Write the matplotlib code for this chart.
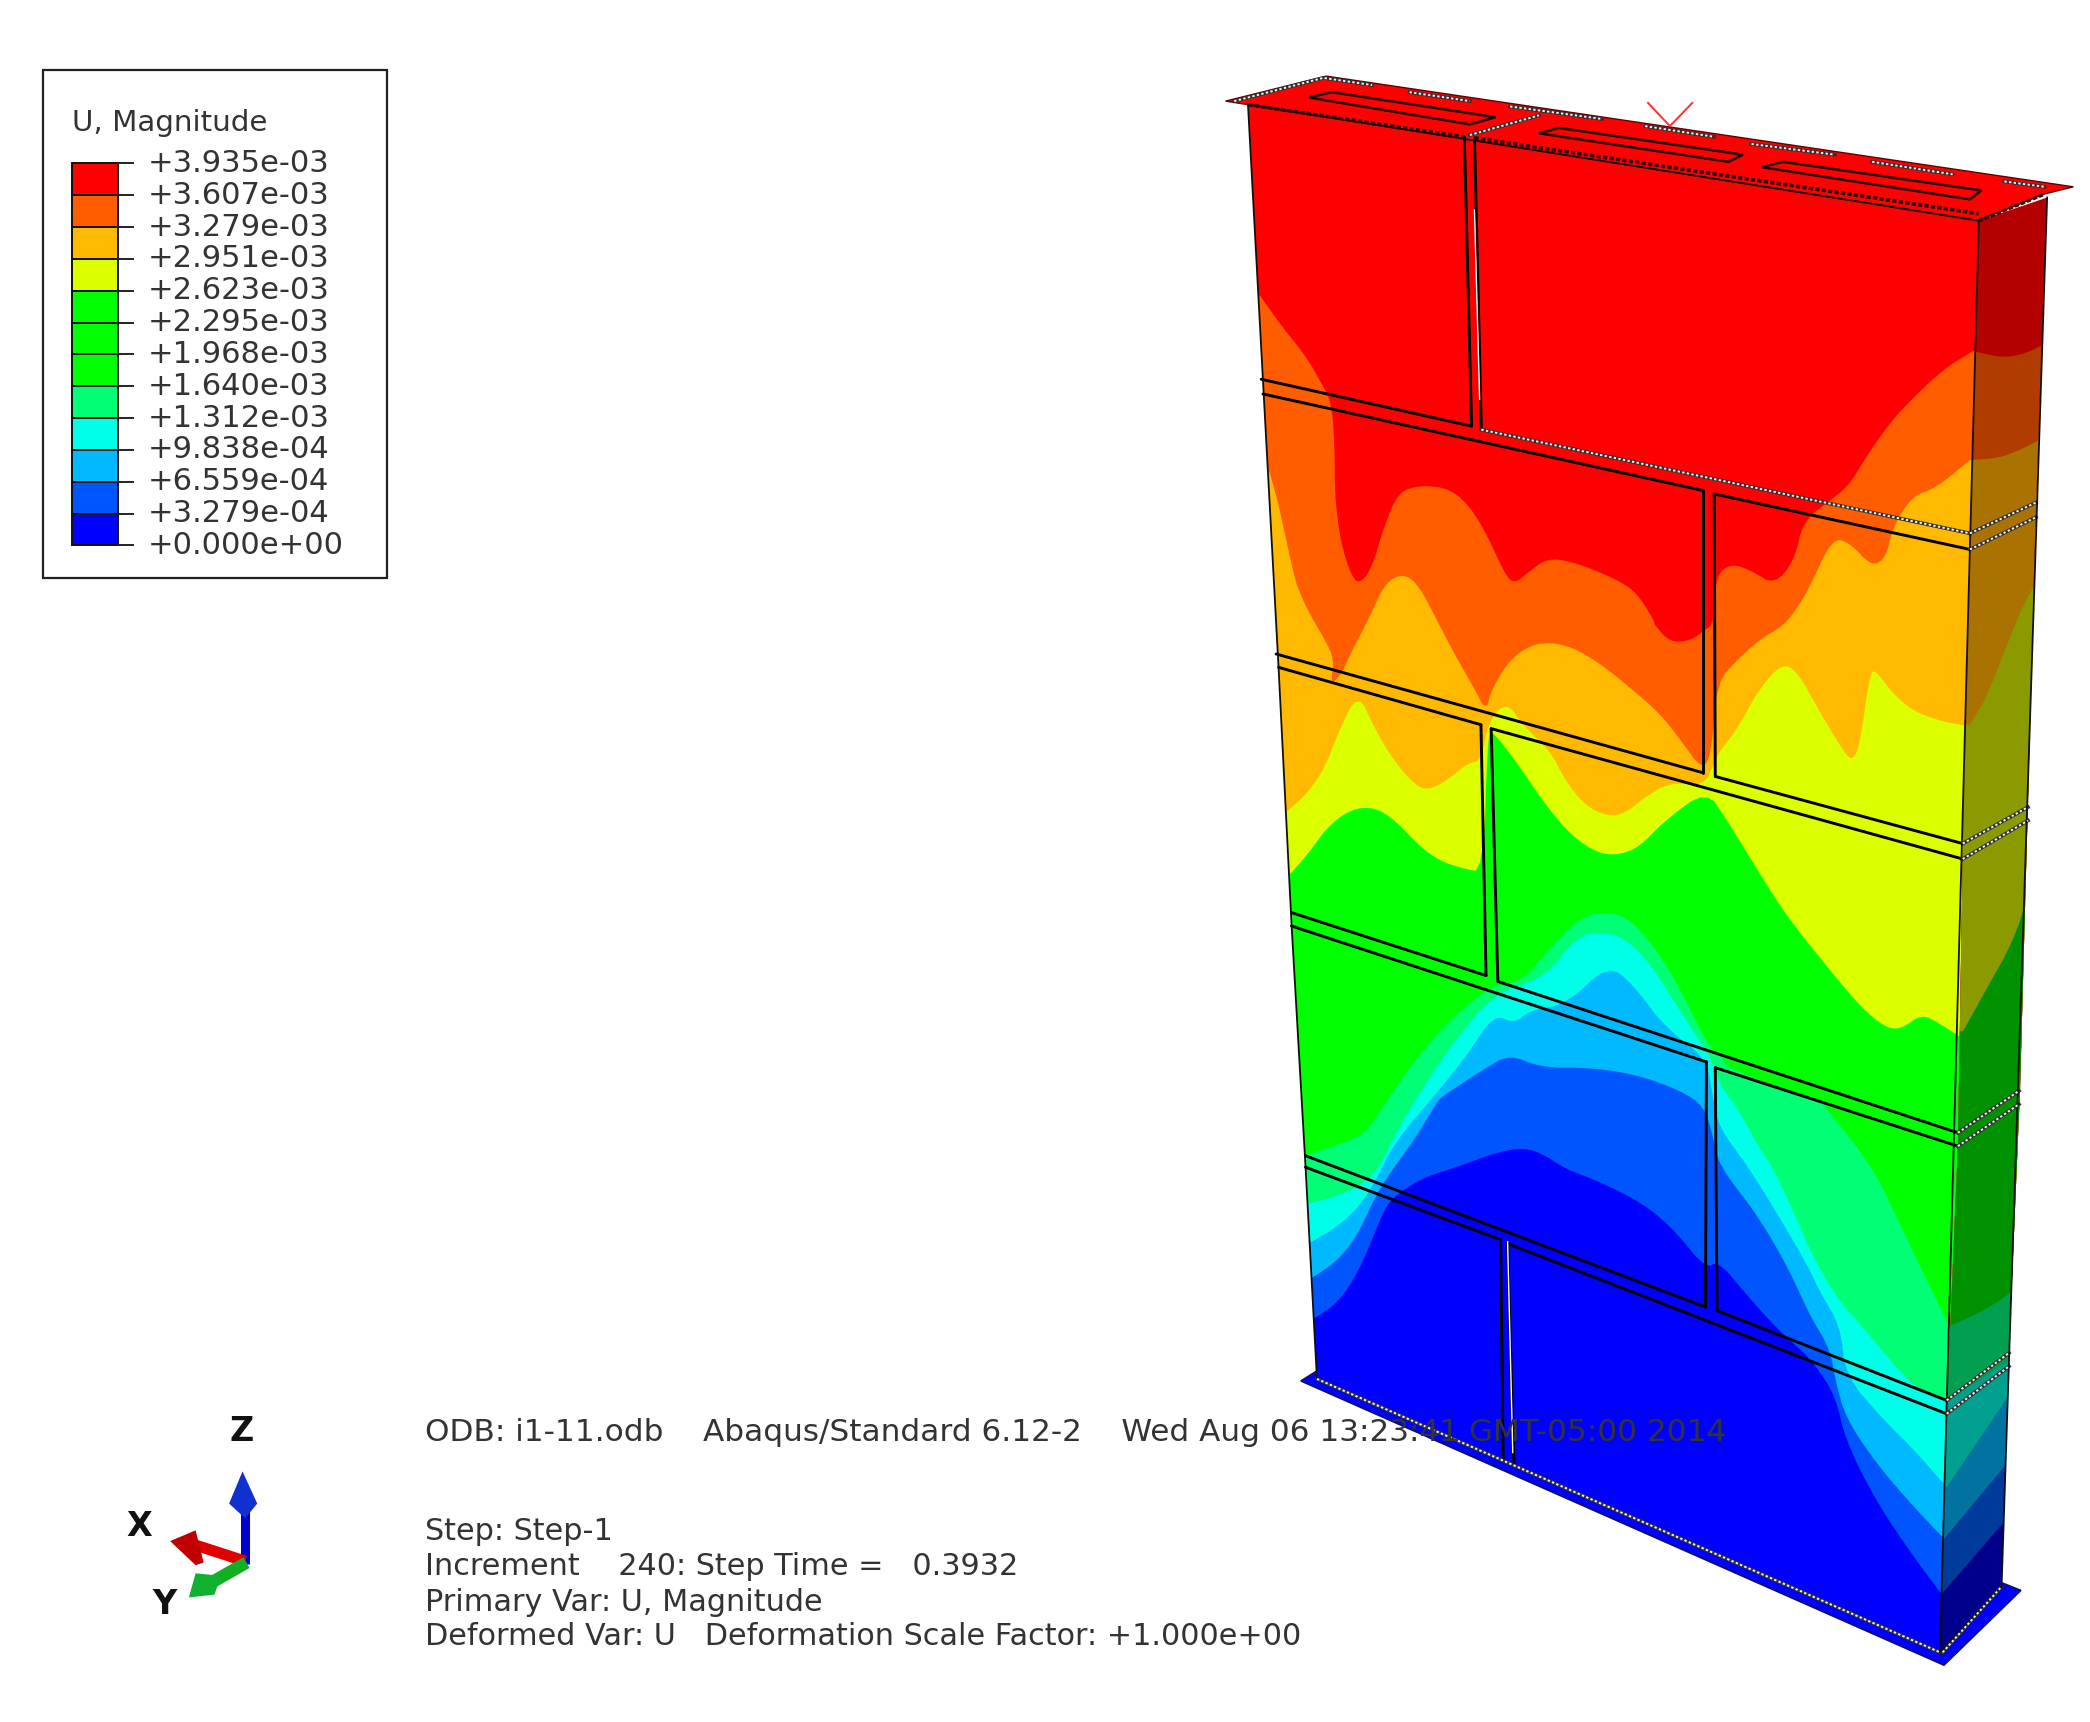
import matplotlib
matplotlib.use("Agg")
import matplotlib.pyplot as plt
from matplotlib.patches import Polygon

W, H = 1560, 1285

def z2(p): return [(895.5 + .429 * x, 44.8 + .2665 * y) for x, y in p]
def z3(p): return [(925.4 + .387 * x, 417.9 + .2859 * y) for x, y in p]
def z4(p): return [(940.3 + .387 * x, 820.9 + .2859 * y) for x, y in p]

def smooth(p, rounds=2):
    for _ in range(rounds):
        out = [p[0]]
        for a, b in zip(p[:-1], p[1:]):
            out.append((.75 * a[0] + .25 * b[0], .75 * a[1] + .25 * b[1]))
            out.append((.25 * a[0] + .75 * b[0], .25 * a[1] + .75 * b[1]))
        out.append(p[-1])
        p = out
    return p

# legend
levels = [3.935e-03, 3.607e-03, 3.279e-03, 2.951e-03, 2.623e-03, 2.295e-03, 1.968e-03,
          1.640e-03, 1.312e-03, 9.838e-04, 6.559e-04, 3.279e-04, 0.0]
level_labels = ["+3.935e-03", "+3.607e-03", "+3.279e-03", "+2.951e-03", "+2.623e-03", "+2.295e-03",
                "+1.968e-03", "+1.640e-03", "+1.312e-03", "+9.838e-04", "+6.559e-04", "+3.279e-04",
                "+0.000e+00"]
band_colors = ["#FF0000", "#FF5D00", "#FFB900", "#DCFF00", "#00FF00", "#00FF00", "#00FF00",
               "#00FF74", "#00FFE8", "#00B9FF", "#0055FF", "#0000FF"]

# wall contour boundaries, high to low
front_colors = ["#FF5D00", "#FFB900", "#DCFF00", "#00FF00", "#00FF74", "#00FFE8", "#00B9FF", "#0055FF", "#0000FF"]
side_colors = ["#B03C00", "#AA7200", "#8A9A00", "#009100", "#00A050", "#00A090", "#0073A0", "#003A9A", "#00008C"]

c_red = z2([(105,660),(140,740),(185,830),(210,900),(230,960),(235,1100),(235,1220),(245,1350),(265,1450),(280,1465),
            (300,1420),(320,1310),(345,1210),(385,1190),(435,1200),(470,1250),(500,1330),(525,1420),(545,1470),(575,1430),
            (605,1395),(650,1405),(720,1450),(760,1490),(790,1568)]) + \
        z3([(800,170),(830,215),(870,210),(895,185),(915,165),(918,40)]) + \
        z2([(925,1410),(960,1430),(1000,1470),(1035,1400),(1050,1290),(1100,1230),(1130,1190),(1160,1110),(1190,1040),
            (1220,980),(1290,870),(1345,815)])
c_orange = z2([(117,1130),(135,1230),(150,1340),(165,1450),(175,1500)]) + \
        z3([(105,50),(130,130),(165,210),(182,260),(175,325),(195,300),(215,240),(250,150),(280,60),(315,35),(345,65),
            (385,170),(420,260),(450,330),(475,395),(485,340),(520,260),(570,215),(630,220),(690,265),(750,330),(810,400),
            (850,470),(893,550),(910,500),(920,320),(960,260),(1000,210),(1050,170),(1075,125)]) + \
        z2([(1060,1480),(1100,1340),(1130,1350),(1170,1420),(1195,1390),(1205,1310),(1240,1220),(1280,1200),(1340,1120)])
c_amber = z3([(92,655),(130,610),(165,540),(190,450),(228,345),(260,440),(300,530),(340,590),(365,600),(400,575),
              (440,530),(465,525),(480,420),(515,370),(545,430),(600,500),(625,570),(665,640),(710,670),(745,660),(780,620),
              (830,580),(895,590),(915,530),(925,500),(960,440),(1000,340),(1045,270),(1075,290),(1120,400),(1160,490),
              (1180,525),(1195,490),(1215,300),(1225,285),(1260,350),(1300,395),(1350,420),(1408,435)])
c_yellow = z3([(97,820),(130,770),(170,695),(215,650),(260,645),(300,680),(345,745),(385,785),(430,805),(470,815),(478,450),
               (490,450),(540,540),(590,640),(640,720),(690,765),(730,770),(770,750),(820,680),(900,600),(940,680),(990,790),
               (1040,900),(1090,990),(1150,1090),(1200,1170),(1245,1220),(1275,1225),(1315,1185),(1350,1210),(1395,1250)])
c_green = z3([(125,1555),(180,1530),(240,1500),(270,1440),(340,1300),(420,1180),(490,1110),(545,1100),(600,1010),(660,930),
              (705,918),(750,935),(800,1010),(850,1120),(900,1260),(930,1300),(945,1330),(1130,1420)]) + \
          z4([(1085,10),(1180,170),(1230,310),(1290,480),(1330,590)])
c_spring = z4([(95,270),(140,255),(185,230),(225,190),(260,90),(300,0)]) + \
           z3([(400,1280),(490,1130),(590,1090),(650,980),(710,970),(755,1000),(800,1070),(850,1180),(910,1300),(925,1370),
               (960,1430),(1000,1530)]) + \
           z4([(1000,200),(1090,480),(1180,620),(1260,750),(1330,790)])
c_cyan = z4([(100,370),(150,330),(190,280),(220,220),(260,110),(330,0)]) + \
         z3([(440,1290),(490,1185),(530,1210),(560,1175),(630,1160),(710,1055),(760,1110),(820,1220),(900,1300),(912,1400)]) + \
         z4([(885,70),(940,170),(1000,300),(1060,440),(1080,500),(1120,590),(1130,720),(1200,830),(1260,910),(1325,1010)])
c_azure = z4([(100,465),(150,420),(190,350),(230,230),(300,100),(340,10)]) + \
          z3([(390,1400),(470,1330),(520,1290),(580,1325),(680,1325),(770,1345),(850,1385),(895,1425),(912,1500)]) + \
          z4([(885,170),(960,300),(1020,440),(1060,560),(1100,650),(1110,730),(1130,830),(1190,950),(1260,1060),(1320,1145)])
c_mid = z4([(105,570),(150,530),(190,450),(230,320),(250,260),(310,205),(380,175),(460,135),(510,125),(545,140),(590,180),
            (650,210),(740,270),(800,340),(860,440),(885,420),(940,510),(1000,600),(1050,660),(1070,690),(1110,770),
            (1130,890),(1190,1050),(1260,1190),(1315,1290)])
front_curves = [c_red, c_orange, c_amber, c_yellow, c_green, c_spring, c_cyan, c_azure, c_mid]

side_curves = [z2([(1345,815),(1400,835),(1440,820),(1475,790)]),
               z2([(1340,1120),(1390,1115),(1430,1090),(1465,1060)]),
               z3([(1408,430),(1440,360),(1480,220),(1510,120),(1535,60)]),
               z3([(1395,1230),(1440,1120),(1490,1000),(1520,880)]),
               z4([(1330,590),(1380,560),(1420,530),(1450,500)]),
               z4([(1325,790),(1345,770),(1445,680)]),
               z4([(1325,1010),(1440,780)]),
               z4([(1320,1145),(1440,950)]),
               z4([(1315,1290),(1430,1110)])]

# wall geometry
front_face = [(931.5,78),(1477,164.7),(1470.4,398),(1465,641),(1461.4,855),(1453,1055),(1448,1233),(983,1029),(974.4,869.5),(964,689.5),(954.4,499.4)]
side_face = [(1477,164.7),(1528,147.4),(1519.7,375),(1513.6,600.9),(1507.8,812),(1499.5,1009.6),(1494,1184),(1448,1233),(1453,1055),(1461.4,855),(1465,641),(1470.4,398)]
top_plate = z2([(45,115),(220,45),(1520,355),(1470,375),(1355,450),(84,125)])
base_plate = [(971,1030.5),(983,1023),(1495.6,1181.7),(1508.4,1186.8),(1451,1242.6)]
slots = [z2([(190,105),(230,90),(515,160),(470,180)]),
         z2([(590,205),(625,190),(945,265),(920,285)]),
         z2([(978,300),(1015,285),(1360,365),(1340,390)])]

solid_lines = [
    [(941.4,283),(1098.4,318)], [(942.7,294),(1271,366)], [(1279.5,368.6),(1470.4,410)],
    [(1093,102),(1098.4,318)], [(1100.6,103),(1105.7,320.6)],
    [(1271,366),(1271,576.6)], [(1279.5,368.6),(1280.3,579.4)],
    [(952.5,488),(1271,576.6)], [(954.4,498),(1105.4,540.8)], [(1113,543.7),(1465,641)], [(1280.3,579.4),(1465,629.5)],
    [(1105.4,540.8),(1109.2,728)], [(1113,543.7),(1118,732.4)],
    [(964,681),(1109.2,728)], [(1118,732.4),(1461.4,845.3)], [(964,691),(1273.7,792.4)], [(1280.3,796.7),(1461.4,855.3)],
    [(1273.7,792.4),(1273,975.3)], [(1280.3,796.7),(1281.6,978)],
    [(974.4,862.4),(1273,975.3)], [(1281.6,978),(1453,1045)], [(974.4,871),(1120,925)], [(1125.3,928),(1453,1055)],
    [(1120,925),(1122,1089.6)], [(1125.3,928),(1130,1092.5)],
]
dotted_lines = [
    [(1105.7,320.6),(1470.4,398)], [(1470.4,398),(1519.7,375)], [(1470.4,410),(1519.7,386)],
    [(1465,629.5),(1513.7,602.3)], [(1465,641),(1513.7,612.3)],
    [(1461.4,845.3),(1507,814)], [(1461.4,855.3),(1507,824)],
    [(1453,1045),(1499.5,1009.6)], [(1453,1055),(1499.5,1019.6)],
    [(983,1029),(1448,1233)], [(1450,1233),(1494,1184)],
    z2([(60,115),(215,50),(300,70)]), z2([(365,90),(470,115)]), z2([(540,130),(700,165)]),
    z2([(775,185),(895,215)]), z2([(960,235),(1105,265)]), z2([(1170,285),(1310,320)]), z2([(1400,340),(1470,355)]),
    z2([(470,210),(590,155)]),
]
white_lines = [z2([(478,420),(487,950)]), z4([(478,370),(488,920)])]
top_edges = [z2([(85,125),(460,215)]), z2([(478,218),(1355,430)]), z2([(1355,450),(1470,375)])]
v_mark = z2([(780,120),(818,185),(857,120)])

# annotation
info_top = "ODB: i1-11.odb    Abaqus/Standard 6.12-2    Wed Aug 06 13:23:41 GMT-05:00 2014"
info_lines = ["Step: Step-1", "Increment    240: Step Time =   0.3932", "Primary Var: U, Magnitude",
              "Deformed Var: U   Deformation Scale Factor: +1.000e+00"]
info_y = [1143, 1169, 1196, 1221]

fig = plt.figure(figsize=(20.9, 17.22), dpi=100)
ax = fig.add_axes([0, 0, 1, 1])
ax.set_xlim(0, W)
ax.set_ylim(H, 0)
ax.axis("off")

def fill_bands(face, base, curves, colors, z, rounds):
    clip = Polygon(face, closed=True, transform=ax.transData, fc="none", ec="none")
    ax.add_patch(clip)
    ax.add_patch(Polygon(face, closed=True, fc=base, ec="none", zorder=z))
    for curve, col in zip(curves, colors):
        curve = smooth(curve, rounds)
        x0, y0 = curve[0]
        x1, y1 = curve[-1]
        pts = [(x0 - 80, y0)] + curve + [(x1 + 80, y1), (x1 + 80, 1320), (x0 - 80, 1320)]
        q = Polygon(pts, closed=True, fc=col, ec="none", zorder=z)
        ax.add_patch(q)
        q.set_clip_path(clip)

ax.add_patch(Polygon(base_plate, closed=True, fc="#0000FF", ec="#101060", lw=1.2, zorder=1))
ax.add_patch(Polygon(top_plate, closed=True, fc="#FF0000", ec="#600000", lw=1.0, zorder=3))
fill_bands(front_face, "#FF0000", front_curves, front_colors, 2, 2)
fill_bands(side_face, "#B40000", side_curves, side_colors, 2, 2)

for s in slots:
    ax.add_patch(Polygon(s, closed=True, fc="#FF0000", ec="#200000", lw=1.8, zorder=4))
for ln in top_edges:
    ax.plot(*zip(*ln), color="#300000", lw=2.6, ls=(0, (1.2, 0.6)), zorder=4)
for ln in solid_lines:
    ax.plot(*zip(*ln), color="#000000", lw=2.1, zorder=5, solid_capstyle="round")
for ln in dotted_lines:
    ax.plot(*zip(*ln), color="#303030", lw=2.6, zorder=5)
    ax.plot(*zip(*ln), color="#F0F0F0", lw=1.4, ls=(0, (1.2, 1.2)), zorder=6)
for ln in white_lines:
    ax.plot(*zip(*ln), color="#FFFFFF", lw=1.0, zorder=6)
for a, b in [(front_face[0], front_face[1]), (front_face[1], front_face[6]), (side_face[1], side_face[6]), (side_face[6], side_face[7])]:
    ax.plot([a[0], b[0]], [a[1], b[1]], color="#101010", lw=1.3, zorder=5)
ax.plot([front_face[0][0], front_face[10][0], front_face[9][0], front_face[8][0], front_face[7][0]],
        [front_face[0][1], front_face[10][1], front_face[9][1], front_face[8][1], front_face[7][1]],
        color="#101010", lw=1.3, zorder=5)
ax.plot(*zip(*v_mark), color="#FF3030", lw=1.4, zorder=6)

# legend box and colour bar
ax.add_patch(Polygon([(32,52),(289,52),(289,431),(32,431)], closed=True, fc="white", ec="#222222", lw=1.6, zorder=7))
ax.text(54, 91.5, "U, Magnitude", fontsize=21.2, color="#333333", va="center", ha="left", zorder=8)
n = len(levels) - 1
step = (407 - 122) / n
for i, col in enumerate(band_colors):
    ax.bar(54, step, width=34, bottom=122 + i * step, align="edge", color=col, ec="#111111", lw=1.4, zorder=8)
for i, lab in enumerate(level_labels):
    y = 122 + i * step
    ax.plot([88, 99], [y, y], color="#222222", lw=1.4, zorder=8)
    ax.text(110, y, lab, fontsize=22.1, color="#333333", va="center", ha="left", zorder=8)

# triad
ax.plot([183, 183], [1167, 1125], color="#0000C8", lw=6.5, zorder=8, solid_capstyle="butt")
ax.add_patch(Polygon([(181,1098),(192,1122),(183,1133),(171,1122)], closed=True, fc="#1030D0", ec="none", zorder=8))
ax.plot([183, 146], [1165, 1153], color="#E00000", lw=8, zorder=8, solid_capstyle="butt")
ax.add_patch(Polygon([(127,1150),(146,1142),(152,1166),(146,1168)], closed=True, fc="#C00000", ec="none", zorder=8))
ax.plot([184, 156], [1166, 1182], color="#10B020", lw=9, zorder=8, solid_capstyle="butt")
ax.add_patch(Polygon([(141,1192),(146,1174),(165,1176),(160,1190)], closed=True, fc="#10B030", ec="none", zorder=8))
for t, x, y in [("Z", 180, 1068), ("X", 104, 1139), ("Y", 123, 1197)]:
    ax.text(x, y, t, fontsize=24, fontweight="bold", color="#111111", ha="center", va="center", zorder=8)

ax.text(317, 1069, info_top, fontsize=22.4, color="#333333", va="center", ha="left", zorder=9)
for t, y in zip(info_lines, info_y):
    ax.text(317, y, t, fontsize=21.8, color="#333333", va="center", ha="left", zorder=9)

fig.savefig("out.png", dpi=100)
